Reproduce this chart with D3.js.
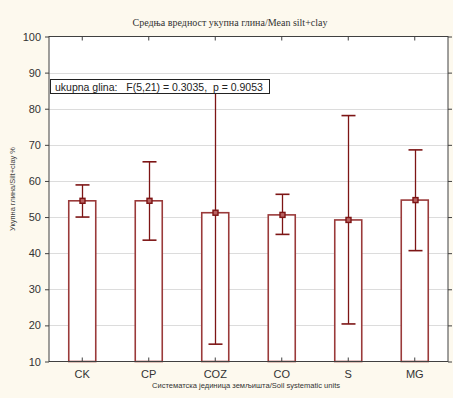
<!DOCTYPE html>
<html>
<head>
<meta charset="utf-8">
<script src="https://cdn.jsdelivr.net/npm/d3@7"></script>
<style>
  html, body { margin: 0; padding: 0; background: #fdf9ee; }
  svg { display: block; }
</style>
</head>
<body>
<svg id="chart" width="453" height="398"></svg>
<script>
// Soil systematic units and mean silt+clay content with confidence intervals
const categories = ["CK", "CP", "COZ", "CO", "S", "MG"];
const means = [54.5, 54.5, 51.2, 50.6, 49.2, 54.7];
const upper = [58.9, 65.3, 87.6, 56.3, 78.1, 68.6];
const lower = [50.0, 43.6, 14.8, 45.2, 20.4, 40.7];
const yTicks = [10, 20, 30, 40, 50, 60, 70, 80, 90, 100];

const svg = d3.select("#chart");
const W = 453, H = 398;
const plot = { left: 49, right: 448, top: 36.5, bottom: 361.5 };

svg.append("rect").attr("width", W).attr("height", H).attr("fill", "#fdf9ee");

const x = d3.scaleBand().domain(categories).range([plot.left, plot.right]).padding(0);
const y = d3.scaleLinear().domain([10, 100]).range([plot.bottom, plot.top]);

// plot background
svg.append("rect")
  .attr("x", plot.left).attr("y", plot.top)
  .attr("width", plot.right - plot.left).attr("height", plot.bottom - plot.top)
  .attr("fill", "#ffffff");

// horizontal grid
svg.append("g").selectAll("line").data(yTicks.slice(1, -1)).join("line")
  .attr("x1", plot.left).attr("x2", plot.right)
  .attr("y1", d => Math.round(y(d)) + 0.5).attr("y2", d => Math.round(y(d)) + 0.5)
  .attr("stroke", "#dcdcdc").attr("stroke-width", 1.2);

// bars
const barW = 27;
svg.append("g").selectAll("rect").data(categories).join("rect")
  .attr("x", (d) => x(d) + x.bandwidth() / 2 - barW / 2)
  .attr("y", (d, i) => y(means[i]))
  .attr("width", barW)
  .attr("height", (d, i) => y(10) - y(means[i]))
  .attr("fill", "#ffffff")
  .attr("stroke", "#9a3a3a")
  .attr("stroke-width", 1.6);

// error bars with mean markers
const eb = svg.append("g").attr("stroke", "#7d1515").attr("stroke-width", 1.3);
const capW = 14;
categories.forEach((c, i) => {
  const cx = Math.round(x(c) + x.bandwidth() / 2) + 0.5;
  eb.append("line").attr("x1", cx).attr("x2", cx).attr("y1", y(upper[i])).attr("y2", y(lower[i]));
  [upper[i], lower[i]].forEach(v => {
    eb.append("line").attr("x1", cx - capW / 2).attr("x2", cx + capW / 2)
      .attr("y1", y(v)).attr("y2", y(v)).attr("stroke-width", 1.6);
  });
  svg.append("rect")
    .attr("x", cx - 2.5).attr("y", y(means[i]) - 2.5)
    .attr("width", 5).attr("height", 5)
    .attr("fill", "#b86060").attr("stroke", "#7d1515").attr("stroke-width", 1.4);
});

// frame
svg.append("rect")
  .attr("x", plot.left).attr("y", plot.top)
  .attr("width", plot.right - plot.left).attr("height", plot.bottom - plot.top)
  .attr("fill", "none").attr("stroke", "#404040").attr("stroke-width", 1);

// left axis
const yAxis = d3.axisLeft(y).tickValues(yTicks).tickSize(4).tickPadding(4);
const gy = svg.append("g").attr("transform", `translate(${plot.left},0)`).call(yAxis);
gy.select(".domain").remove();
gy.selectAll("line").attr("stroke", "#404040");
gy.selectAll("text").attr("font-family", "Liberation Sans, Arial, sans-serif").attr("font-size", 11).attr("fill", "#333");

// right ticks
const gr = svg.append("g").attr("transform", `translate(${plot.right},0)`)
  .call(d3.axisRight(y).tickValues(yTicks).tickSize(4).tickFormat(""));
gr.select(".domain").remove();
gr.selectAll("line").attr("stroke", "#404040");

// bottom axis
const xAxis = d3.axisBottom(x).tickSizeInner(-4).tickSizeOuter(0).tickPadding(9);
const gx = svg.append("g").attr("transform", `translate(0,${plot.bottom})`).call(xAxis);
gx.select(".domain").remove();
gx.selectAll("line").attr("stroke", "#404040");
gx.selectAll("text").attr("font-family", "Liberation Sans, Arial, sans-serif").attr("font-size", 11).attr("fill", "#333");

// top ticks
const gt = svg.append("g").attr("transform", `translate(0,${plot.top})`)
  .call(d3.axisTop(x).tickSizeInner(-4).tickSizeOuter(0).tickFormat(""));
gt.select(".domain").remove();
gt.selectAll("line").attr("stroke", "#404040");

// statistics box
svg.append("rect").attr("x", 50.5).attr("y", 79.5).attr("width", 219).attr("height", 14)
  .attr("fill", "#ffffff").attr("stroke", "#222").attr("stroke-width", 1);
svg.append("text").attr("x", 55).attr("y", 90.5)
  .attr("font-family", "Liberation Sans, Arial, sans-serif").attr("font-size", 10.5).attr("fill", "#222")
  .attr("xml:space", "preserve")
  .text("ukupna glina:   F(5,21) = 0.3035,  p = 0.9053");

// title
svg.append("text").attr("x", 230).attr("y", 26).attr("text-anchor", "middle")
  .attr("font-family", "Liberation Serif, Times New Roman, serif").attr("font-size", 10).attr("fill", "#333")
  .text("Средња вредност укупна глина/Mean silt+clay");

// y axis title
svg.append("text").attr("transform", "translate(15,189) rotate(-90)").attr("text-anchor", "middle")
  .attr("font-family", "Liberation Sans, Arial, sans-serif").attr("font-size", 8).attr("fill", "#444")
  .attr("textLength", 84).attr("lengthAdjust", "spacingAndGlyphs")
  .text("Укупна глина/Silt+clay %");

// x axis title
svg.append("text").attr("x", 246).attr("y", 388).attr("text-anchor", "middle")
  .attr("font-family", "Liberation Sans, Arial, sans-serif").attr("font-size", 8).attr("fill", "#333")
  .attr("textLength", 188).attr("lengthAdjust", "spacingAndGlyphs")
  .text("Систематска јединица земљишта/Soil systematic units");
</script>
</body>
</html>
